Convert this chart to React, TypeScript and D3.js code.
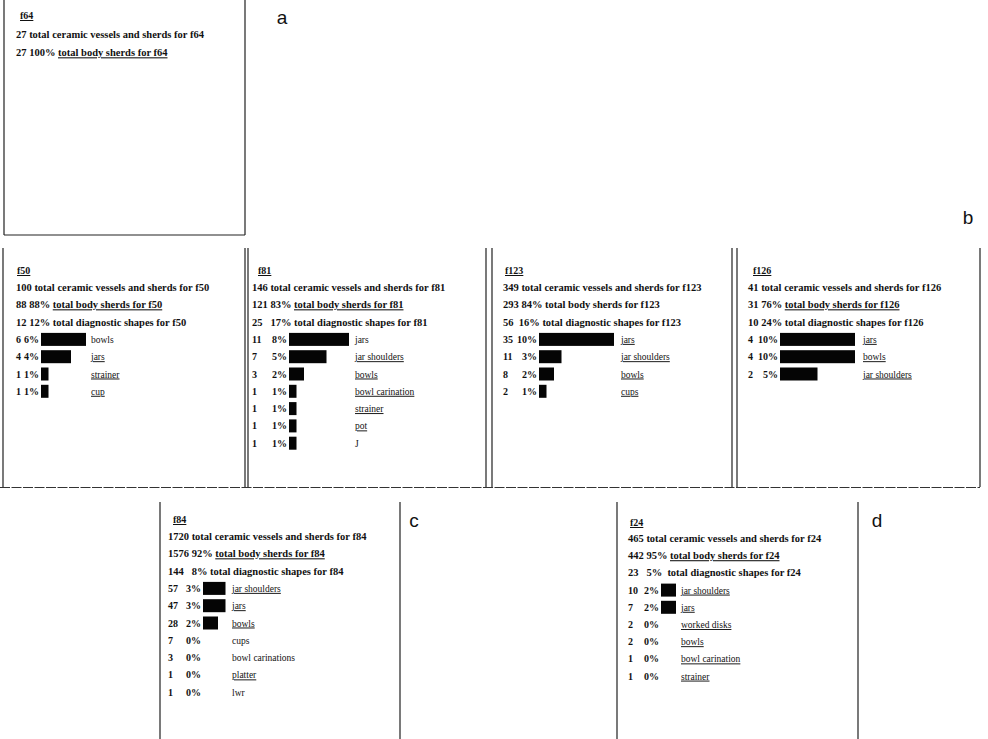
import React from "react";
import * as d3 from "d3";

// ---------- data ----------
const panelIds = ["f64", "f50", "f81", "f123", "f126", "f84", "f24"];
const totalCounts = [27, 100, 146, 349, 41, 1720, 465];
const bodyCounts = [27, 88, 121, 293, 31, 1576, 442];
const bodyPercents = [100, 88, 83, 84, 76, 92, 95];
const diagCounts: (number | null)[] = [null, 12, 25, 56, 10, 144, 23];
const diagPercents: (number | null)[] = [null, 12, 17, 16, 24, 8, 5];

const f64Shapes: string[] = [];
const f64Counts: number[] = [];
const f64Percents: number[] = [];
const f50Shapes = ["bowls", "jars", "strainer", "cup"];
const f50Counts = [6, 4, 1, 1];
const f50Percents = [6, 4, 1, 1];
const f81Shapes = ["jars", "jar shoulders", "bowls", "bowl carination", "strainer", "pot", "J"];
const f81Counts = [11, 7, 3, 1, 1, 1, 1];
const f81Percents = [8, 5, 2, 1, 1, 1, 1];
const f123Shapes = ["jars", "jar shoulders", "bowls", "cups"];
const f123Counts = [35, 11, 8, 2];
const f123Percents = [10, 3, 2, 1];
const f126Shapes = ["jars", "bowls", "jar shoulders"];
const f126Counts = [4, 4, 2];
const f126Percents = [10, 10, 5];
const f84Shapes = ["jar shoulders", "jars", "bowls", "cups", "bowl carinations", "platter", "lwr"];
const f84Counts = [57, 47, 28, 7, 3, 1, 1];
const f84Percents = [3, 3, 2, 0, 0, 0, 0];
const f24Shapes = ["jar shoulders", "jars", "worked disks", "bowls", "bowl carination", "strainer"];
const f24Counts = [10, 7, 2, 2, 1, 1];
const f24Percents = [2, 2, 0, 0, 0, 0];

const panelLetters = ["a", "b", "c", "d"];

const shapeTable: Record<string, [string[], number[], number[]]> = {
  f64: [f64Shapes, f64Counts, f64Percents],
  f50: [f50Shapes, f50Counts, f50Percents],
  f81: [f81Shapes, f81Counts, f81Percents],
  f123: [f123Shapes, f123Counts, f123Percents],
  f126: [f126Shapes, f126Counts, f126Percents],
  f84: [f84Shapes, f84Counts, f84Percents],
  f24: [f24Shapes, f24Counts, f24Percents],
};

// ---------- layout / style ----------
type Box = {
  x0: number; x1: number; y0: number; y1: number;
  titleX: number; titleY: number; textX: number; firstY: number; step: number;
  barX: number; labelX: number;
};
const layout: Record<string, Box> = {
  f64: { x0: 4, x1: 245, y0: -2, y1: 235, titleX: 20, titleY: 19, textX: 16, firstY: 37.5, step: 18.8, barX: 0, labelX: 0 },
  f50: { x0: 3, x1: 245, y0: 248, y1: 487, titleX: 17, titleY: 274, textX: 16, firstY: 291, step: 17.3, barX: 41, labelX: 91 },
  f81: { x0: 248, x1: 486, y0: 248, y1: 487, titleX: 258, titleY: 274, textX: 252, firstY: 291, step: 17.3, barX: 289, labelX: 355 },
  f123: { x0: 492, x1: 732, y0: 248, y1: 487, titleX: 505, titleY: 274, textX: 503, firstY: 291, step: 17.3, barX: 539, labelX: 621 },
  f126: { x0: 737, x1: 980, y0: 248, y1: 487, titleX: 753, titleY: 274, textX: 748, firstY: 291, step: 17.3, barX: 780, labelX: 863 },
  f84: { x0: 160, x1: 400, y0: 502, y1: 745, titleX: 173, titleY: 523, textX: 168, firstY: 540, step: 17.3, barX: 203, labelX: 232 },
  f24: { x0: 617, x1: 858, y0: 502, y1: 745, titleX: 630, titleY: 526, textX: 628, firstY: 542, step: 17.2, barX: 661, labelX: 681 },
};
const letterPos: Record<string, [number, number]> = {
  a: [282, 24], b: [968, 224], c: [414, 527], d: [877, 527],
};
// header gaps (visual spacing only)
const diagGapA: Record<string, string> = { f50: " ", f81: "   ", f123: "  ", f126: " ", f84: "   ", f24: "   " };
const diagGapB: Record<string, string> = { f50: " ", f81: " ", f123: " ", f126: " ", f84: " ", f24: "  " };
const noUnderline = new Set(["f81:jars", "f81:J", "f84:cups", "f84:bowl carinations", "f84:lwr", "f50:bowls"]);
const bodyUnderline = new Set(["f64", "f50", "f81", "f126", "f84", "f24"]);

const serif = "'Liberation Serif', 'Times New Roman', serif";
const ink = "#111";

const barScale = d3.scaleLinear().domain([0, 10]).range([0, 75]);

function Panel({ id, idx }: { id: string; idx: number }) {
  const L = layout[id];
  const [shapes, counts, pcts] = shapeTable[id];
  const rowY = (i: number) => L.firstY + i * L.step;
  const hasDiag = diagCounts[idx] !== null;
  const headFont = { fontFamily: serif, fontSize: 10.5, fontWeight: 700, fill: ink, whiteSpace: "pre" as const };
  return (
    <g>
      <path
        d={`M${L.x0},${L.y0}V${L.y1}M${L.x1},${L.y0}V${L.y1}`}
        stroke="#222" strokeWidth={1.2} fill="none"
      />
      <text x={L.titleX} y={L.titleY} style={{ ...headFont, fontSize: 10 }} textDecoration="underline">{id}</text>
      <text x={L.textX} y={rowY(0)} style={headFont}>
        {`${totalCounts[idx]} total ceramic vessels and sherds for ${id}`}
      </text>
      <text x={L.textX} y={rowY(1)} style={headFont}>
        <tspan>{`${bodyCounts[idx]} ${bodyPercents[idx]}% `}</tspan>
        <tspan textDecoration={bodyUnderline.has(id) ? "underline" : "none"}>{`total body sherds for ${id}`}</tspan>
      </text>
      {hasDiag && (
        <text x={L.textX} y={rowY(2)} style={headFont}>
          {`${diagCounts[idx]}${diagGapA[id]}${diagPercents[idx]}%${diagGapB[id]}total diagnostic shapes for ${id}`}
        </text>
      )}
      {shapes.map((s, i) => {
        const y = rowY(3 + i);
        const w = barScale(pcts[i]);
        return (
          <g key={s + i}>
            <text x={L.textX} y={y} style={{ fontFamily: serif, fontSize: 10, fontWeight: 700, fill: ink }}>{counts[i]}</text>
            <text x={L.barX - 2} y={y} textAnchor="end" style={{ fontFamily: serif, fontSize: 10, fontWeight: 700, fill: ink }}>{`${pcts[i]}%`}</text>
            {w > 0 && <rect x={L.barX} y={y - 10} width={w} height={13} fill="#050505" />}
            <text
              x={L.labelX} y={y}
              style={{ fontFamily: serif, fontSize: 9.5, fill: ink }}
              textDecoration={noUnderline.has(`${id}:${s}`) ? "none" : "underline"}
            >{s}</text>
          </g>
        );
      })}
    </g>
  );
}

export default function App() {
  return (
    <svg width={988} height={739} style={{ position: "absolute", left: 0, top: 0, background: "#fff" }}>
      <rect x={0} y={0} width={988} height={739} fill="#fff" />
      {/* panel a bottom */}
      <line x1={4} x2={245} y1={235} y2={235} stroke="#222" strokeWidth={1.2} />
      {/* row b bottom */}
      <line x1={0} x2={980} y1={487.5} y2={487.5} stroke="#333" strokeWidth={1.2} strokeDasharray="10 1.5" />
      {panelIds.map((id, i) => (
        <Panel key={id} id={id} idx={i} />
      ))}
      {panelLetters.map((l) => (
        <text key={l} x={letterPos[l][0]} y={letterPos[l][1]} textAnchor="middle"
          style={{ fontFamily: "'Liberation Sans', Arial, sans-serif", fontSize: 19, fill: "#111" }}>{l}</text>
      ))}
    </svg>
  );
}
